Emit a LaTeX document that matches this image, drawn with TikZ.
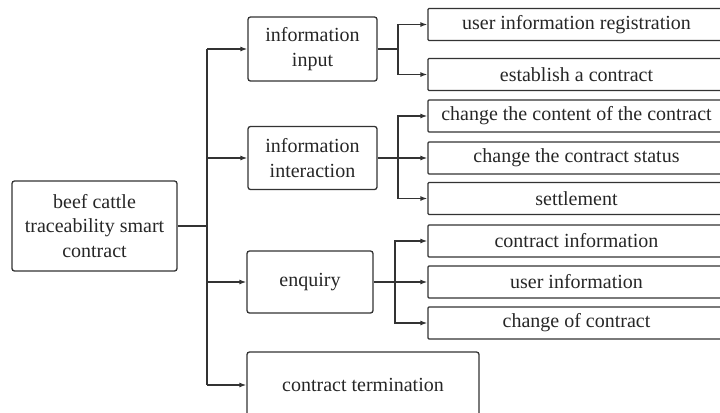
\documentclass[tikz,border=0pt]{standalone}
\usepackage{fontspec}
\setmainfont{Liberation Serif}
\usetikzlibrary{arrows.meta}
\definecolor{ln}{HTML}{333333}
\definecolor{tx}{HTML}{262626}
\tikzset{
  box/.style={draw=ln, line width=1.3bp, rounded corners=2.5bp, inner sep=0pt, align=center,
    text=tx, font=\fontsize{20bp}{24.5bp}\selectfont},
  leaf/.style={draw=ln, line width=1.3bp, rounded corners=1bp, inner sep=0pt, align=center,
    text=tx, font=\fontsize{20bp}{24.5bp}\selectfont, minimum width=297bp, minimum height=32bp},
  con/.style={draw=ln, line width=1.3bp},
  arr/.style={con, -{Latex[length=7bp,width=5bp]}},
}
\begin{document}
\begin{tikzpicture}[x=1bp,y=-1bp]
\useasboundingbox (0,0) rectangle (720,412);
% main nodes
\node[box, minimum width=165bp, minimum height=90bp] (root) at (94.5,226) {beef cattle\\traceability smart\\contract};
\node[box, minimum width=129bp, minimum height=64bp] (inp) at (312.5,49) {information\\input};
\node[box, minimum width=129bp, minimum height=63bp] (inter) at (312.5,158) {information\\interaction};
\node[box, minimum width=126bp, minimum height=62bp] (enq) at (310,282) {enquiry};
\node[box, minimum width=232bp, minimum height=66bp] (term) at (363,385) {contract termination};
% leaves
\node[leaf] (uir) at (576.5,24.5) {user information registration};
\node[leaf] (eac) at (576.5,74.5) {establish a contract};
\node[leaf] (ccc) at (576.5,116) {change the content of the contract};
\node[leaf] (ccs) at (576.5,158) {change the contract status};
\node[leaf] (set) at (576.5,198.5) {settlement};
\node[leaf] (ci) at (576.5,241) {contract information};
\node[leaf] (ui) at (576.5,282) {user information};
\node[leaf] (coc) at (576.5,323) {change of contract};
% trunk
\coordinate (trunk) at (207,226);
\draw[con] (root.east) -- (trunk);
\draw[con] (trunk |- inp.west) -- (trunk |- term.west);
\foreach \n in {inp,inter,enq,term} \draw[arr] (trunk |- \n.west) -- (\n.west);
% branch 1
\coordinate (b1) at (398,49);
\draw[con] (inp.east) -- (b1);
\draw[arr] (b1) |- (uir.west);
\draw[arr] (b1) |- (eac.west);
% branch 2
\coordinate (b2) at (398,158);
\draw[con] (inter.east) -- (b2);
\draw[arr] (b2) |- (ccc.west);
\draw[arr] (b2) -- (ccs.west);
\draw[arr] (b2) |- (set.west);
% branch 3
\coordinate (b3) at (395,282);
\draw[con] (enq.east) -- (b3);
\draw[arr] (b3) |- (ci.west);
\draw[arr] (b3) -- (ui.west);
\draw[arr] (b3) |- (coc.west);
\end{tikzpicture}
\end{document}
